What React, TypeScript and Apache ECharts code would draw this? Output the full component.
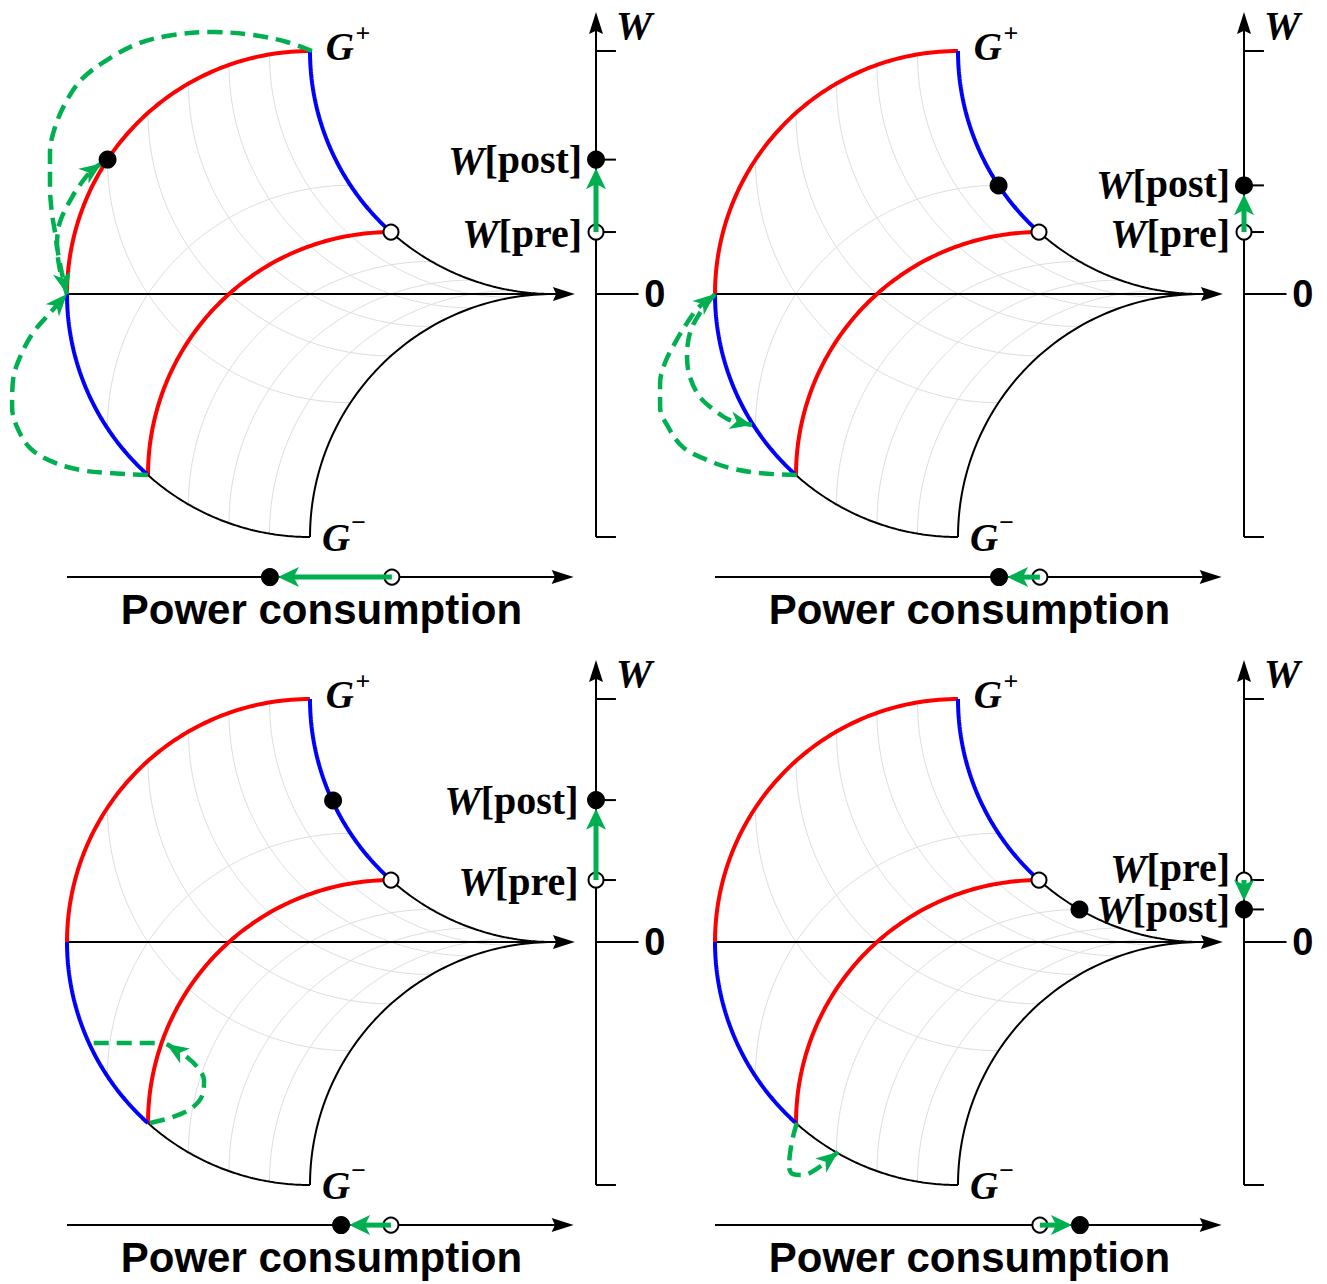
import React, { useEffect, useRef } from 'react';
import * as echarts from 'echarts';

// ---------------- data ----------------
// cosine levels of the two joint angles at which the light grid lines are drawn
const gridLevels = [-5 / 6, -2 / 3, -1 / 2, -1 / 3, -1 / 6];
// cosine level of the inner (red) switching boundary
const switchLevel = -2 / 3;

// W axis values (pre / post) for the 4 panels
const wPre = [0.255, 0.255, 0.255, 0.255];
const wPost = [0.553, 0.447, 0.584, 0.134];
// power consumption axis values (pre / post)
const powerPre = [0.337, 0.337, 0.333, 0.337];
const powerPost = [-0.165, 0.169, 0.128, 0.502];
// final state point on the shape
const stateX = [-0.833, 0.167, 0.095, 0.5];
const stateY = [0.553, 0.447, 0.582, 0.134];

// green dashed trajectories
const p1PathA = [[-0.667, -0.745], [-0.823, -0.737], [-0.947, -0.724], [-1.058, -0.691], [-1.152, -0.634], [-1.206, -0.547], [-1.226, -0.465], [-1.222, -0.354], [-1.193, -0.259], [-1.14, -0.16], [-1.07, -0.078], [-1.0, 0.0]];
const p1PathC = [[0.008, 1.0], [-0.095, 1.037], [-0.235, 1.066], [-0.399, 1.078], [-0.564, 1.066], [-0.7, 1.033], [-0.823, 0.971], [-0.934, 0.889], [-1.0, 0.798], [-1.049, 0.687], [-1.07, 0.58], [-1.07, 0.44], [-1.062, 0.333], [-1.049, 0.251], [-1.037, 0.169], [-1.021, 0.086], [-1.0, 0.0]];
const p1PathB = [[-1.0, 0.0], [-1.029, 0.099], [-1.041, 0.202], [-1.029, 0.296], [-0.979, 0.399], [-0.938, 0.461], [-0.897, 0.51], [-0.858, 0.537]];
const p2PathOuter = [[-0.663, -0.745], [-0.815, -0.737], [-0.938, -0.716], [-1.033, -0.683], [-1.132, -0.63], [-1.193, -0.547], [-1.226, -0.465], [-1.226, -0.366], [-1.206, -0.284], [-1.165, -0.202], [-1.115, -0.119], [-1.07, -0.058], [-1.0, 0.0]];
const p2PathInner = [[-1.0, 0.0], [-1.062, -0.078], [-1.103, -0.16], [-1.115, -0.259], [-1.103, -0.342], [-1.062, -0.424], [-0.992, -0.486], [-0.938, -0.519], [-0.848, -0.539]];
const p3PathJump = [[-0.89, -0.416], [-0.605, -0.416]];
const p3PathLoop = [[-0.658, -0.745], [-0.564, -0.72], [-0.481, -0.679], [-0.44, -0.621], [-0.436, -0.568], [-0.461, -0.519], [-0.502, -0.477], [-0.59, -0.42]];
const p4PathLoop = [[-0.663, -0.745], [-0.679, -0.802], [-0.691, -0.868], [-0.695, -0.926], [-0.679, -0.955], [-0.638, -0.959], [-0.588, -0.938], [-0.494, -0.864]];

const trajectories: { path: number[][]; arrow: boolean }[][] = [
  [{ path: p1PathA, arrow: true }, { path: p1PathC, arrow: true }, { path: p1PathB, arrow: true }],
  [{ path: p2PathOuter, arrow: true }, { path: p2PathInner, arrow: true }],
  [{ path: p3PathJump, arrow: false }, { path: p3PathLoop, arrow: true }],
  [{ path: p4PathLoop, arrow: true }],
];

// ---------------- layout ----------------
const SCALE = 243;
const ORIGINS = [[310, 294], [958, 294], [310, 942], [958, 942]];
const X_MIN = -1.27, X_MAX = 1.45, Y_MIN = -1.4, Y_MAX = 1.2;
const W_AXIS_X = 1.177;
const POWER_Y = -1.165;
const AXIS_END = 1.09;
const wLabelRight = [1.12, 1.12, 1.105, 1.12];
const wPostLabelY = [0.553, 0.453, 0.584, 0.136];
const wPreLabelY = [0.251, 0.251, 0.251, 0.305];

const RED = '#FF0000', BLUE = '#0000FF', GREEN = '#00B050', GRAY = '#DEDEDE', BLACK = '#000000';
const SERIF = '"Liberation Serif", "Times New Roman", serif';
const SANS = '"Liberation Sans", Arial, sans-serif';

// ---------------- geometry helpers ----------------
const D = Math.PI / 180;
const pt = (a: number, b: number) => [1 + Math.cos(a) + Math.cos(b), Math.sin(a) + Math.sin(b)];
const aOf = (c: number) => Math.acos(c); // 90..180 deg
const bOf = (c: number) => 2 * Math.PI - Math.acos(c); // 180..270 deg
const N = 80;
const curveA = (a: number, b0: number, b1: number) => {
  const out: number[][] = [];
  for (let k = 0; k <= N; k++) out.push(pt(a, b0 + ((b1 - b0) * k) / N));
  return out;
};
const curveB = (b: number, a0: number, a1: number) => {
  const out: number[][] = [];
  for (let k = 0; k <= N; k++) out.push(pt(a0 + ((a1 - a0) * k) / N, b));
  return out;
};

const RICH = {
  wi: { fontFamily: SERIF, fontWeight: 'bold', fontStyle: 'italic', fontSize: 41, color: BLACK },
  sb: { fontFamily: SERIF, fontWeight: 'bold', fontSize: 40, color: BLACK },
  gi: { fontFamily: SERIF, fontWeight: 'bold', fontStyle: 'italic', fontSize: 39, color: BLACK },
  sup: { fontFamily: SERIF, fontWeight: 'bold', fontSize: 26, color: BLACK },
  sans: { fontFamily: SANS, fontWeight: 'bold', fontSize: 42, color: BLACK },
  zero: { fontFamily: SANS, fontWeight: 'bold', fontSize: 38, color: BLACK },
};

function lineS(i: number, data: number[][], color: string, width: number, z: number, dashed = false, smooth: any = false) {
  return {
    type: 'line', xAxisIndex: i, yAxisIndex: i, data, showSymbol: false, symbol: 'none', smooth, z, silent: true, clip: false,
    lineStyle: { color, width, opacity: 1, type: dashed ? [15, 8] : 'solid', cap: 'butt' },
  };
}

function segS(i: number, items: number[][], color: string, width: number, L: number, Wd: number, notch: number, z: number) {
  return {
    type: 'custom', xAxisIndex: i, yAxisIndex: i, z, silent: true, clip: false,
    data: items,
    renderItem: (_p: any, api: any) => {
      const p0 = api.coord([api.value(0), api.value(1)]);
      const p1 = api.coord([api.value(2), api.value(3)]);
      const shaft = api.value(4) === 1;
      const dx = p1[0] - p0[0], dy = p1[1] - p0[1];
      const len = Math.hypot(dx, dy) || 1;
      const ux = dx / len, uy = dy / len, nx = -uy, ny = ux;
      const nb = L * notch;
      const children: any[] = [];
      if (shaft) {
        children.push({
          type: 'line',
          shape: { x1: p0[0], y1: p0[1], x2: p1[0] - ux * nb, y2: p1[1] - uy * nb },
          style: { stroke: color, lineWidth: width },
        });
      }
      if (L > 0) {
        const bx = p1[0] - ux * L, by = p1[1] - uy * L;
        children.push({
          type: 'polygon',
          shape: { points: [[p1[0], p1[1]], [bx + (nx * Wd) / 2, by + (ny * Wd) / 2], [p1[0] - ux * nb, p1[1] - uy * nb], [bx - (nx * Wd) / 2, by - (ny * Wd) / 2]] },
          style: { fill: color },
        });
      }
      return { type: 'group', children };
    },
  };
}

type TextItem = { x: number; y: number; text: string; align: string };
function textS(i: number, items: TextItem[], z: number) {
  return {
    type: 'scatter', xAxisIndex: i, yAxisIndex: i, symbolSize: 0, z, silent: true, clip: false,
    itemStyle: { opacity: 1 },
    data: items.map((t) => ({
      value: [t.x, t.y],
      label: {
        show: true, position: 'inside', formatter: t.text, align: t.align, verticalAlign: 'middle', rich: RICH,
        color: BLACK, opacity: 1, textBorderWidth: 0,
      },
    })),
  };
}

function markerS(i: number, pts: number[][], filled: boolean, z: number) {
  return {
    type: 'scatter', xAxisIndex: i, yAxisIndex: i, z, silent: true, clip: false,
    symbol: 'circle', symbolSize: filled ? 18 : 15,
    itemStyle: filled ? { color: BLACK, opacity: 1 } : { color: '#FFFFFF', borderColor: BLACK, borderWidth: 2, opacity: 1 },
    data: pts,
  };
}

function buildOption() {
  const grids: any[] = [], xAxes: any[] = [], yAxes: any[] = [], series: any[] = [];
  const aTop = 90 * D, aLeft = 180 * D, bLeft = 180 * D, bBottom = 270 * D;
  const bS = bOf(switchLevel);
  const corner = pt(aTop, bS);

  ORIGINS.forEach(([ox, oy], i) => {
    grids.push({ left: ox + X_MIN * SCALE, top: oy - Y_MAX * SCALE, width: (X_MAX - X_MIN) * SCALE, height: (Y_MAX - Y_MIN) * SCALE });
    xAxes.push({ type: 'value', gridIndex: i, min: X_MIN, max: X_MAX, show: false });
    yAxes.push({ type: 'value', gridIndex: i, min: Y_MIN, max: Y_MAX, show: false });

    // light grid
    gridLevels.forEach((c) => {
      series.push(lineS(i, curveA(aOf(c), bLeft, bBottom), GRAY, 1, 1));
      series.push(lineS(i, curveB(bOf(c), aTop, aLeft), GRAY, 1, 1));
    });

    // black outline parts
    series.push(lineS(i, curveA(aLeft, bS, bBottom), BLACK, 2, 2));
    series.push(lineS(i, curveA(aTop, bS, bBottom), BLACK, 2, 2));
    series.push(lineS(i, curveB(bBottom, aTop, aLeft), BLACK, 2, 2));

    // black axes with arrows
    series.push(segS(i, [
      [-1, 0, AXIS_END, 0, 1],
      [W_AXIS_X, -1.0, W_AXIS_X, 1.16, 1],
      [-1, POWER_Y, AXIS_END - 0.005, POWER_Y, 1],
    ], BLACK, 2, 22, 14, 0.85, 2));
    // W axis ticks
    series.push(segS(i, [
      [W_AXIS_X, 1.0, W_AXIS_X + 0.082, 1.0, 1],
      [W_AXIS_X, -1.0, W_AXIS_X + 0.082, -1.0, 1],
      [W_AXIS_X, wPost[i], W_AXIS_X + 0.082, wPost[i], 1],
      [W_AXIS_X, wPre[i], W_AXIS_X + 0.082, wPre[i], 1],
      [W_AXIS_X, 0, W_AXIS_X + 0.175, 0, 1],
    ], BLACK, 2, 0, 0, 0, 2));

    // coloured boundaries
    series.push(lineS(i, curveB(bLeft, aTop, aLeft), RED, 4, 3));
    series.push(lineS(i, curveB(bS, aTop, aLeft), RED, 4, 3));
    series.push(lineS(i, curveA(aLeft, bLeft, bS), BLUE, 4, 3));
    series.push(lineS(i, curveA(aTop, bLeft, bS), BLUE, 4, 3));

    // green dashed trajectories + arrowheads
    const heads: number[][] = [];
    trajectories[i].forEach(({ path, arrow }) => {
      series.push(lineS(i, path, GREEN, 4.5, 4, true, path.length > 2 ? 0.35 : false));
      if (arrow) {
        const n = path.length;
        heads.push([path[n - 2][0], path[n - 2][1], path[n - 1][0], path[n - 1][1], 0]);
      }
    });
    series.push(segS(i, heads, GREEN, 4, 22, 18, 0.72, 5));

    // markers
    series.push(markerS(i, [corner, [W_AXIS_X, wPre[i]], [powerPre[i], POWER_Y]], false, 6));
    series.push(markerS(i, [[stateX[i], stateY[i]], [W_AXIS_X, wPost[i]], [powerPost[i], POWER_Y]], true, 6));

    // solid green arrows on the W and power axes
    const wDir = Math.sign(wPost[i] - wPre[i]);
    const pDir = Math.sign(powerPost[i] - powerPre[i]);
    series.push(segS(i, [
      [W_AXIS_X, wPre[i], W_AXIS_X, wPost[i] - wDir * 0.036, 1],
      [powerPre[i], POWER_Y, powerPost[i] - pDir * 0.033, POWER_Y, 1],
    ], GREEN, 5, 21, 20, 0.75, 7));

    // texts
    series.push(textS(i, [
      { x: 0.123, y: 1.02, text: '{gi|G}', align: 'center' },
      { x: 0.218, y: 1.07, text: '{sup|+}', align: 'center' },
      { x: 0.107, y: -1.0, text: '{gi|G}', align: 'center' },
      { x: 0.2, y: -0.942, text: '{sup|\u2212}', align: 'center' },
      { x: 1.333, y: 1.107, text: '{wi|W}', align: 'center' },
      { x: 1.375, y: 0, text: '{zero|0}', align: 'left' },
      { x: wLabelRight[i], y: wPostLabelY[i], text: '{wi|W}{sb|[post]}', align: 'right' },
      { x: wLabelRight[i], y: wPreLabelY[i], text: '{wi|W}{sb|[pre]}', align: 'right' },
      { x: 0.047, y: -1.3, text: '{sans|Power consumption}', align: 'center' },
    ], 8));
  });

  return { animation: false, backgroundColor: '#FFFFFF', grid: grids, xAxis: xAxes, yAxis: yAxes, series };
}

export default function App() {
  const ref = useRef<HTMLDivElement>(null);
  useEffect(() => {
    if (!ref.current) return;
    const chart = echarts.init(ref.current, undefined, { renderer: 'svg' });
    chart.setOption(buildOption() as any);
    return () => chart.dispose();
  }, []);
  return <div ref={ref} style={{ position: 'absolute', left: 0, top: 0, width: 1327, height: 1284, background: '#fff' }} />;
}
